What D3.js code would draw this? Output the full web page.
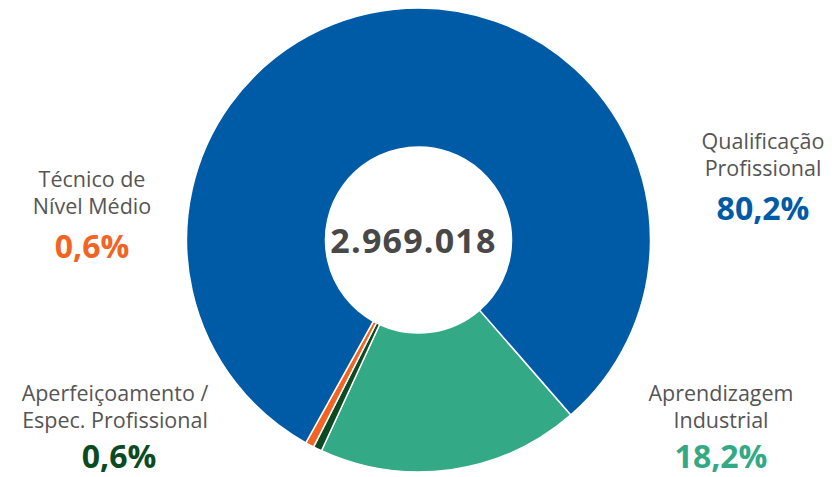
<!DOCTYPE html>
<html>
<head>
<meta charset="utf-8">
<script src="https://cdn.jsdelivr.net/npm/d3@7"></script>
<style>
  html, body { margin: 0; padding: 0; background: #fff; }
  svg { display: block; font-family: "Open Sans", "Noto Sans", sans-serif; }
</style>
</head>
<body>
<svg id="chart" width="832" height="477"></svg>
<script>
"use strict";

// data
let categories = ["Aprendizagem Industrial", "Aperfeiçoamento / Espec. Profissional", "Técnico de Nível Médio", "Qualificação Profissional"]
let shares = [18.2, 0.6, 0.6, 80.2]
let shareLabels = ["18,2%", "0,6%", "0,6%", "80,2%"]
let total = "2.969.018"

// label lines per category (text split as in picture)
let labelLines = [
  ["Aprendizagem", "Industrial"],
  ["Aperfeiçoamento /", "Espec. Profissional"],
  ["Técnico de", "Nível Médio"],
  ["Qualificação", "Profissional"]
]

let colors = ["#34a985", "#0c4a22", "#f26324", "#005ba6"]

// label anchors: center x, baseline y of first line
let labelPos = [
  {x: 721, y: 401},
  {x: 115, y: 401},
  {x: 92, y: 187},
  {x: 763, y: 149}
]

const svg = d3.select("#chart")
const cx = 418.5, cy = 240
const outerR = 232, innerR = 93

let pie = d3.pie()
    .sort(null)
    .value(d => d)
    .startAngle(2.425)
    .endAngle(2.425 + 2 * Math.PI)

let arc = d3.arc().innerRadius(innerR).outerRadius(outerR)

let g = svg.append("g").attr("transform", "translate(" + cx + "," + cy + ")")

g.selectAll("path.slice")
  .data(pie(shares))
  .enter().append("path")
    .attr("class", "slice")
    .attr("d", arc)
    .attr("fill", (d, i) => colors[i])
    .attr("stroke", "#fff")
    .attr("stroke-width", 1.5)

g.append("text")
    .attr("x", -5)
    .attr("y", 13)
    .attr("text-anchor", "middle")
    .attr("font-size", 34)
    .attr("font-weight", 700)
    .attr("letter-spacing", 1.2)
    .attr("fill", "#484848")
    .text(total)

let labels = svg.selectAll("g.label")
  .data(categories)
  .enter().append("g")
    .attr("class", "label")
    .attr("transform", (d, i) => "translate(" + labelPos[i].x + "," + labelPos[i].y + ")")

labels.each(function(d, i){
  let lg = d3.select(this)
  labelLines[i].forEach((line, j) => {
    lg.append("text")
        .attr("y", j * 27)
        .attr("text-anchor", "middle")
        .attr("font-size", 21.5)
        .attr("fill", "#555")
        .text(line)
  })
  lg.append("text")
      .attr("x", i == 1 ? 4 : 0)
      .attr("y", i < 2 ? 67 : 71)
      .attr("text-anchor", "middle")
      .attr("font-size", 32)
      .attr("font-weight", 700)
      .attr("fill", colors[i])
      .text(shareLabels[i])
})
</script>
</body>
</html>
